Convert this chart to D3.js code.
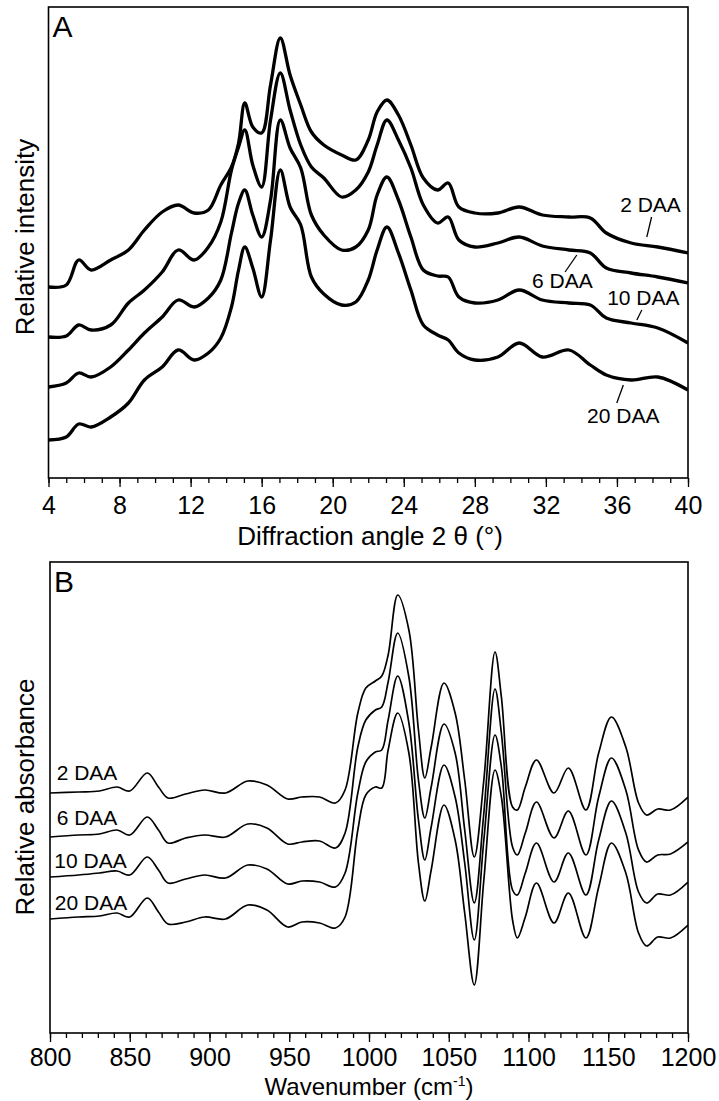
<!DOCTYPE html>
<html><head><meta charset="utf-8">
<script src="https://cdn.jsdelivr.net/npm/d3@7"></script>
<style>
body{margin:0;background:#fff}
svg{display:block}
text{font-family:"Liberation Sans",Arial,Helvetica,sans-serif;fill:#000}
</style>
</head><body>
<svg id="c" width="719" height="1101"></svg>
<script>
// ---------- Panel A: XRD ----------
const xrdAngle = [4,5,5.7,6.4,7.5,8.5,9.4,10.4,11.3,12.2,13,13.7,14.3,14.7,15.05,15.5,16,16.5,17.05,17.6,18.2,18.8,19.5,20.5,21.3,22,22.5,23.05,23.7,24.4,25.1,25.9,26.5,27.1,28,29.3,30.5,31.8,33.3,34.5,35.4,36.8,38.3,40];
const xrd2DAA  = [191,193,218,208,218,228,248,266,273,265,268,293,311,335,375,351,345,393,440,403,373,346,333,323,318,338,366,378,363,333,300,288,295,271,265,265,271,263,261,260,245,235,231,225];
const xrd6DAA  = [141,142,153,148,153,175,188,206,228,218,231,256,308,331,348,313,291,358,405,368,333,311,300,281,288,306,333,358,338,310,273,255,261,238,231,235,241,232,228,225,210,205,201,195];
const xrd10DAA = [91,95,105,101,111,128,145,161,178,171,180,198,245,275,288,263,241,278,358,330,310,263,243,228,231,248,283,301,278,241,208,202,201,181,175,178,188,178,175,173,160,155,150,135];
const xrd20DAA = [38,41,54,51,61,75,98,111,128,118,125,140,171,208,231,210,181,238,308,271,253,201,184,173,176,198,228,251,225,188,153,143,138,125,118,121,135,121,128,113,103,98,101,88];
const xrdTicks = [4,8,12,16,20,24,28,32,36,40];
const seriesLabels = ["2 DAA","6 DAA","10 DAA","20 DAA"];

// ---------- Panel B: FTIR ----------
const ftirWave = [800,818,831,842,850,861,868,874,885,897,910,924,936,949,958,969,979,985,993,998,1004,1008,1012,1018,1025,1031,1035,1039,1047,1054,1060,1066,1072,1079,1083,1090,1093,1098,1105,1116,1125,1136,1144,1152,1161,1169,1174,1181,1189,1200];
const ftir2DAA  = [240,241,242,246,242,260,246,235,239,243,240,252,248,234,236,236,230,243,320,345,352,357,378,438,403,303,255,286,350,320,253,176,253,381,336,226,223,246,273,240,265,223,280,316,286,230,218,224,223,236];
const ftir6DAA  = [196,198,199,203,198,216,203,190,195,198,196,209,205,189,191,192,185,200,286,313,323,326,351,400,356,253,215,246,309,280,203,130,220,344,300,186,178,200,231,195,222,178,236,275,243,183,171,178,179,191];
const ftir10DAA = [156,158,160,162,158,176,163,150,154,158,155,168,164,149,152,151,146,160,240,271,281,283,313,357,310,213,173,206,268,236,170,93,193,298,266,143,138,160,190,151,180,138,193,232,200,141,130,139,138,151];
const ftir20DAA = [114,116,117,120,116,135,121,109,111,116,114,128,123,106,111,110,105,116,203,238,246,245,283,320,280,170,132,163,228,193,120,48,153,263,236,113,95,116,150,110,140,95,146,190,160,100,87,96,95,108];
const ftirTicks = [800,850,900,950,1000,1050,1100,1150,1200];

const svg = d3.select("#c");

function panel(cfg){
  const g = svg.append("g");
  const x = d3.scaleLinear().domain(cfg.xDomain).range([cfg.left, cfg.right]);
  const y = d3.scaleLinear().domain([0, 471]).range([cfg.bottom, cfg.top]);
  const clipId = "clip" + cfg.name;
  svg.append("clipPath").attr("id", clipId).append("rect")
    .attr("x", cfg.left).attr("y", cfg.top)
    .attr("width", cfg.right - cfg.left).attr("height", cfg.bottom - cfg.top);

  const line = d3.line().x(d => x(d[0])).y(d => y(d[1])).curve(d3.curveCatmullRom.alpha(0.5));
  cfg.series.forEach(s => {
    g.append("path")
      .attr("clip-path", `url(#${clipId})`)
      .attr("d", line(cfg.xs.map((v, i) => [v, s[i]])))
      .attr("fill", "none").attr("stroke", "#000")
      .attr("stroke-width", cfg.lw).attr("stroke-linejoin", "round");
  });

  // minor ticks
  const minor = d3.range(cfg.xDomain[0], cfg.xDomain[1] + cfg.minorStep/2, cfg.minorStep);
  g.append("g").attr("transform", `translate(0,${cfg.bottom})`)
    .call(d3.axisBottom(x).tickValues(minor).tickSize(5).tickFormat(""))
    .call(a => a.select(".domain").remove())
    .call(a => a.selectAll("line").attr("stroke-width", 1.3));
  // major ticks
  g.append("g").attr("transform", `translate(0,${cfg.bottom})`)
    .call(d3.axisBottom(x).tickValues(cfg.ticks).tickSize(9).tickPadding(cfg.tickPad).tickFormat(d3.format("d")))
    .call(a => a.select(".domain").remove())
    .call(a => a.selectAll("line").attr("stroke-width", 1.3))
    .call(a => a.selectAll("text").attr("font-size", 25).attr("font-family", '"Liberation Sans",Arial,sans-serif'));

  // frame
  g.append("rect").attr("x", cfg.left).attr("y", cfg.top)
    .attr("width", cfg.right - cfg.left).attr("height", cfg.bottom - cfg.top)
    .attr("fill", "none").attr("stroke", "#000").attr("stroke-width", 1.6);

  // panel letter
  g.append("text").attr("x", cfg.left + cfg.letterDx).attr("y", cfg.letterY)
    .attr("font-size", 30).text(cfg.letter);

  // y title
  g.append("text").attr("transform", `translate(34,${cfg.yTitleY}) rotate(-90)`)
    .attr("text-anchor", "middle").attr("font-size", 26).text(cfg.yTitle);

  return {g, x, y};
}

// Panel A
const A = panel({
  name: "A", left: 48.5, right: 688, top: 7, bottom: 478,
  xDomain: [4, 40], xs: xrdAngle,
  series: [xrd2DAA, xrd6DAA, xrd10DAA, xrd20DAA],
  ticks: xrdTicks, minorStep: 1, lw: 3.3, tickPad: 9,
  letter: "A", letterDx: 4, letterY: 37,
  yTitle: "Relative intensity", yTitleY: 237
});
A.g.append("text").attr("x", 370).attr("y", 545).attr("text-anchor", "middle")
  .attr("font-size", 26).text("Diffraction angle 2 θ (°)");

const annA = [
  {t: seriesLabels[0], tx: 36.18, ty: 266, l: [[37.95, 261], [37.68, 241]]},
  {t: seriesLabels[1], tx: 31.22, ty: 190, l: [[33.74, 223], [33.08, 206]]},
  {t: seriesLabels[2], tx: 35.45, ty: 173, l: [[37.40, 168], [37.12, 158]]},
  {t: seriesLabels[3], tx: 34.32, ty: 55,  l: [[36.36, 93], [35.99, 75]]}
];
annA.forEach(a => {
  A.g.append("text").attr("x", A.x(a.tx)).attr("y", A.y(a.ty)).attr("font-size", 21).text(a.t);
  A.g.append("line").attr("x1", A.x(a.l[0][0])).attr("y1", A.y(a.l[0][1]))
    .attr("x2", A.x(a.l[1][0])).attr("y2", A.y(a.l[1][1]))
    .attr("stroke", "#000").attr("stroke-width", 1.3);
});

// Panel B
const B = panel({
  name: "B", left: 50, right: 688, top: 562, bottom: 1033,
  xDomain: [800, 1200], xs: ftirWave,
  series: [ftir2DAA, ftir6DAA, ftir10DAA, ftir20DAA],
  ticks: ftirTicks, minorStep: 10, lw: 1.7, tickPad: 6,
  letter: "B", letterDx: 4, letterY: 592,
  yTitle: "Relative absorbance", yTitleY: 797
});
const tB = B.g.append("text").attr("x", 369).attr("y", 1095).attr("text-anchor", "middle").attr("font-size", 24);
tB.append("tspan").text("Wavenumber (cm");
tB.append("tspan").attr("font-size", 14).attr("dy", -9).text("-1");
tB.append("tspan").attr("dy", 9).text(")");

const annB = [
  {t: seriesLabels[0], tx: 804.2, ty: 253},
  {t: seriesLabels[1], tx: 804.2, ty: 208},
  {t: seriesLabels[2], tx: 802.7, ty: 165},
  {t: seriesLabels[3], tx: 803.0, ty: 123}
];
annB.forEach(a => {
  B.g.append("text").attr("x", B.x(a.tx)).attr("y", B.y(a.ty)).attr("font-size", 21).text(a.t);
});
</script>
</body></html>
